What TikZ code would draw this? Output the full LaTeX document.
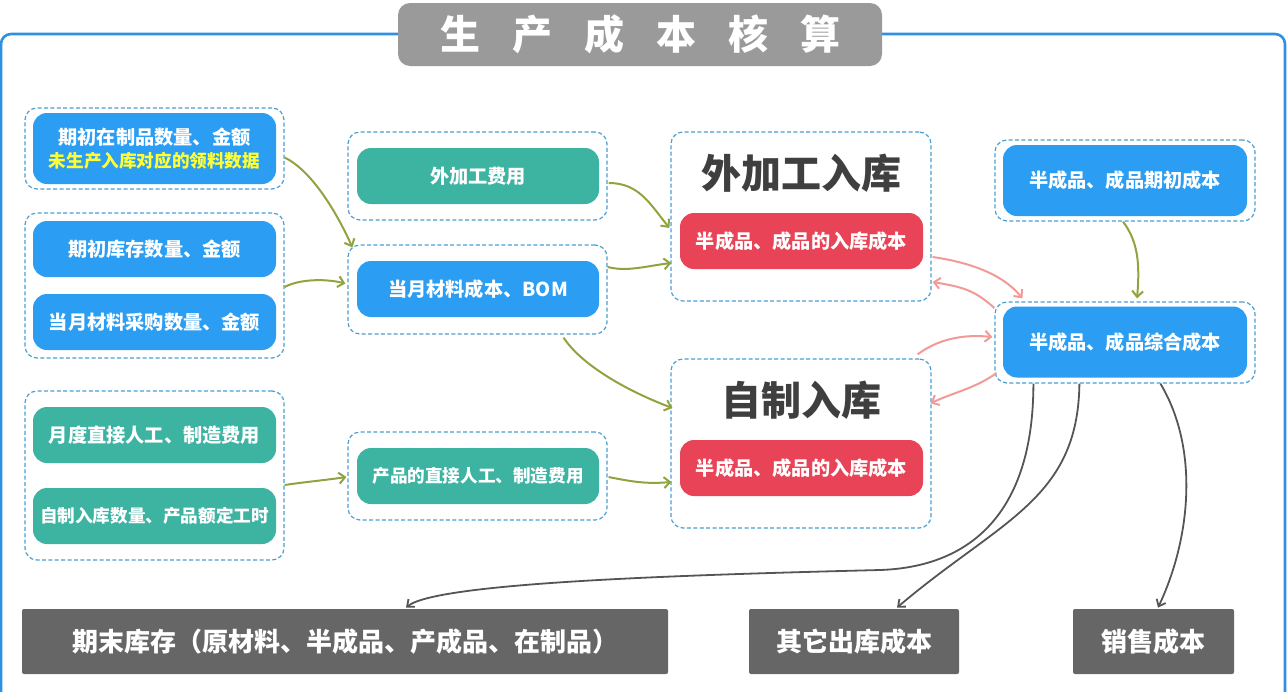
\documentclass[tikz,border=0pt]{standalone}
\usepackage{fontspec}
\setmainfont{Noto Sans CJK SC}
\usetikzlibrary{arrows.meta,calc}

\definecolor{boxblue}{HTML}{2B9EF3}
\definecolor{boxteal}{HTML}{3DB3A2}
\definecolor{boxred}{HTML}{E84356}
\definecolor{boxgray}{HTML}{666666}
\definecolor{titlegray}{HTML}{9A9A9A}
\definecolor{dashblue}{HTML}{4A9FD2}
\definecolor{frameblue}{HTML}{2E90E2}
\definecolor{arrgreen}{HTML}{8FA43F}
\definecolor{arrpink}{HTML}{F29A98}
\definecolor{arrgray}{HTML}{555555}
\definecolor{headgray}{HTML}{3F3F3F}
\definecolor{noteyellow}{HTML}{FFFF33}

\newcommand\tgap{\hspace{0.8em}}

\begin{document}
\begin{tikzpicture}[x=0.5pt,y=-0.5pt,
        grp/.style={draw=dashblue,dash pattern=on 2pt off 1.2pt,line width=0.6pt,
            rounded corners=6pt,fill=white,minimum width=129.5pt,inner sep=0pt},
        box/.style={rounded corners=7pt,text=white,inner sep=0pt,align=center,
            font=\bfseries\fontsize{9.6}{11.5}\selectfont,
            minimum width=121.5pt,minimum height=28pt},
        bluebox/.style={box,fill=boxblue},
        tealbox/.style={box,fill=boxteal},
        redbox/.style={box,fill=boxred},
        graybox/.style={fill=boxgray,rounded corners=1pt,text=white,minimum height=32.5pt,
            font=\bfseries\fontsize{13}{15}\selectfont},
        headtxt/.style={text=headgray,font=\bfseries\fontsize{20}{24}\selectfont},
        garrow/.style={arrgreen,line width=1pt,-{Straight Barb[length=3pt,width=5.5pt]}},
        parrow/.style={arrpink,line width=1pt,-{Straight Barb[length=3pt,width=5.5pt]}},
        darrow/.style={arrgray,line width=0.9pt,-{Straight Barb[length=3pt,width=5pt]}}]
    \useasboundingbox (0,0) rectangle (1288,691);

    % frame and title
    \draw[frameblue,line width=1.3pt,rounded corners=5pt] (1,760) -- (1,34) -- (1285,34) -- (1285,760);
    \node[fill=titlegray,rounded corners=6pt,minimum width=242pt,minimum height=31.5pt,
        text=white,font=\bfseries\fontsize{20}{24}\selectfont] (title) at (640,34.5)
        {生\tgap 产\tgap 成\tgap 本\tgap 核\tgap 算};

    % left column
    \node[grp,minimum height=40.5pt] (grpwip)   at (154.5,148.5) {};
    \node[bluebox,minimum height=35.5pt] (wip)  at (154.5,148.5)
        {期初在制品数量、金额\\\textcolor{noteyellow}{\fontsize{8.8}{11.5}\selectfont 未生产入库对应的领料数据}};
    \node[grp,minimum height=72.5pt] (grpstock) at (154.5,285.5) {};
    \node[bluebox] (stock)    at (154.5,249) {期初库存数量、金额};
    \node[bluebox] (purchase) at (154.5,322) {当月材料采购数量、金额};
    \node[grp,minimum height=84.5pt] (grplab)   at (154.5,475.5) {};
    \node[tealbox] (labour)   at (154.5,435) {月度直接人工、制造费用};
    \node[tealbox] (hours)    at (154.5,516) {\fontsize{8.8}{11}\selectfont 自制入库数量、产品额定工时};

    % middle column
    \node[grp,minimum height=44pt] (grpfee)   at (477.5,176) {};
    \node[tealbox,minimum width=121pt] (fee)  at (478,176) {外加工费用};
    \node[grp,minimum height=44.5pt] (grpmat) at (477.5,289.5) {};
    \node[bluebox,minimum width=121pt] (mat)  at (478,289) {当月材料成本、BOM};
    \node[grp,minimum height=44pt] (grpprod)  at (477.5,476) {};
    \node[tealbox,minimum width=121pt] (prod) at (478,476) {\fontsize{8.8}{11}\selectfont 产品的直接人工、制造费用};

    % stock-in groups
    \node[grp,minimum width=130pt,minimum height=84.5pt] (grpout)  at (801,216.5) {};
    \node[headtxt] (outhead) at (801,173) {外加工入库};
    \node[redbox] (outcost)  at (801.5,241) {半成品、成品的入库成本};
    \node[grp,minimum width=130pt,minimum height=84.5pt] (grpself) at (801,443.5) {};
    \node[headtxt] (selfhead) at (801,400.5) {自制入库};
    \node[redbox] (selfcost)  at (801.5,468) {半成品、成品的入库成本};

    % right column
    \node[grp,minimum width=130pt,minimum height=40.5pt] (grpopen) at (1125,180.5) {};
    \node[bluebox,minimum width=122pt,minimum height=35.5pt] (open) at (1125,180.5) {半成品、成品期初成本};
    \node[grp,minimum width=130pt,minimum height=40.5pt] (grpmix)  at (1125,342.5) {};
    \node[bluebox,minimum width=122pt,minimum height=35.5pt] (mix)  at (1125,342) {半成品、成品综合成本};

    % results
    \node[graybox,minimum width=323pt]  (endstock) at (345,641.5)    {期末库存（原材料、半成品、产成品、在制品）};
    \node[graybox,minimum width=105pt]  (otherout) at (854,641.5)    {其它出库成本};
    \node[graybox,minimum width=80.5pt] (sales)    at (1153.5,641.5) {销售成本};

    % green arrows
    \draw[garrow] ($(grpwip.east)+(0,9)$) .. controls +(25,12) and +(-18,-40) .. ($(grpmat.north west)+(5,3)$);
    \draw[garrow] ($(grpstock.east)+(0,1.5)$) .. controls +(15,-8) and +(-20,-5) .. ($(grpmat.west)+(-2,-6)$);
    \draw[garrow] ($(grplab.east)+(0,9.5)$) .. controls +(20,-3) and +(-20,3) .. ($(grpprod.west)+(-1,1)$);
    \draw[garrow] ($(grpfee.east)+(1,7)$) .. controls +(30,0) and +(-20,-25) .. ($(grpout.west)+(-1,11.5)$);
    \draw[garrow] ($(grpmat.east)+(0,-22.5)$) .. controls +(20,5) and +(-25,3) .. ($(grpout.west)+(1,46.5)$);
    \draw[garrow] ($(grpmat.south)+(86,3)$) .. controls +(20,30) and +(-40,-15) .. ($(grpself.west)+(2,-35.5)$);
    \draw[garrow] ($(grpprod.east)+(1,1)$) .. controls +(25,5) and +(-25,2) .. ($(grpself.west)+(1,38.5)$);
    \draw[garrow] ($(grpopen.south)+(-2,0)$) .. controls +(15,20) and +(3,-35) .. ($(grpmix.north)+(12,-3)$);

    % pink arrows
    \draw[parrow] ($(grpout.east)+(1,40.5)$) .. controls +(35,5) and +(-20,-25) .. ($(grpmix.north west)+(28,-3)$);
    \draw[parrow] ($(grpmix.west)+(0,-34.5)$) .. controls +(-20,-18) and +(30,5) .. ($(grpout.east)+(1,65.5)$);
    \draw[parrow] ($(grpself.north east)+(-14,-4)$) .. controls +(20,-15) and +(-30,-3) .. ($(grpmix.west)+(-2,-5.5)$);
    \draw[parrow] ($(grpmix.west)+(2,30.5)$) .. controls +(-20,15) and +(20,-10) .. ($(grpself.north east)+(-1,45)$);

    % outflows
    \draw[darrow] ($(grpmix.south west)+(39,0)$) .. controls +(0,130) and +(90,-3) .. (880,570)
        .. controls +(-200,5) and +(30,-25) .. ($(endstock.north)+(61,-1)$);
    \draw[darrow] ($(grpmix.south west)+(85,0)$) .. controls (1078,500) and (1000,520) .. ($(otherout.north)+(43,-1)$);
    \draw[darrow] ($(grpmix.south west)+(166,0)$) .. controls (1200,450) and (1190,540) .. ($(sales.north)+(4.5,-1)$);
\end{tikzpicture}
\end{document}
